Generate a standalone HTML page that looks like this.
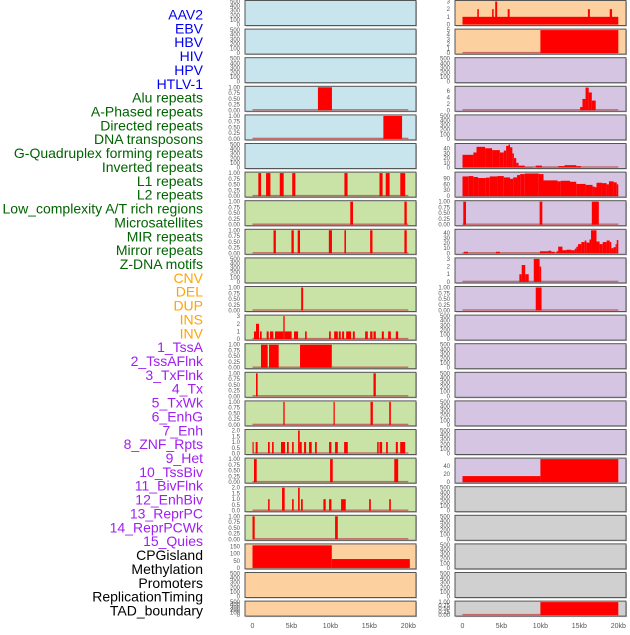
<!DOCTYPE html>
<html><head><meta charset="utf-8"><style>
body{margin:0;background:#fff;width:630px;height:630px;overflow:hidden;font-family:"Liberation Sans",sans-serif}
</style></head><body>
<svg id="c" width="630" height="630" xmlns="http://www.w3.org/2000/svg"></svg>
<script>
const labels=["AAV2","EBV","HBV","HIV","HPV","HTLV-1","Alu repeats","A-Phased repeats","Directed repeats","DNA transposons","G-Quadruplex forming repeats","Inverted repeats","L1 repeats","L2 repeats","Low_complexity A/T rich regions","Microsatellites","MIR repeats","Mirror repeats","Z-DNA motifs","CNV","DEL","DUP","INS","INV","1_TssA","2_TssAFlnk","3_TxFlnk","4_Tx","5_TxWk","6_EnhG","7_Enh","8_ZNF_Rpts","9_Het","10_TssBiv","11_BivFlnk","12_EnhBiv","13_ReprPC","14_ReprPCWk","15_Quies","CPGisland","Methylation","Promoters","ReplicationTiming","TAD_boundary"];
const labelGroups=[6,13,5,15,5];
const groupColors=["#0000ee","#006400","#ffa500","#a020f0","#000000"];
const xTicks=[0,5,10,15,20];
const xTickLabels=["0","5kb","10kb","15kb","20kb"];
const T500=["0","100","200","300","400","500"],V500=[0,100,200,300,400,500];
const T1=["0.00","0.25","0.50","0.75","1.00"],V1=[0,0.25,0.5,0.75,1];
const T2=["0.0","0.5","1.0","1.5","2.0"],V2=[0,0.5,1,1.5,2];
// series [startKb,endKb,value]
const L_alu=[[8.4,10.2,1]];
const L_aphased=[[16.8,19.2,1]];
const L_l2=[[0.75,1.1,1],[1.74,2.3,1],[3.5,4.0,1],[5.1,5.5,1],[11.8,12.2,1],[16.3,16.7,1],[17.1,17.6,1],[18.97,19.6,1]];
const L_lowc=[[12.55,12.9,1],[19.5,19.8,1]];
const L_micro=[[2.7,3.0,1],[5.0,5.3,1],[5.8,6.1,1],[9.8,10.2,1],[11.8,12.0,1],[15.1,15.4,1],[19.5,19.8,1]];
const L_cnv=[[6.25,6.5,1]];
const L_ins=[[0.19,0.45,1],[0.45,0.84,2],[0.96,1.18,1],[1.82,2.08,1],[2.25,2.68,1],[2.89,3.96,1],[3.96,4.13,3],[4.13,5.03,1],[5.33,5.85,1],[6.75,6.96,1],[9.83,10.05,1],[10.48,10.95,1],[11.08,11.33,1],[11.5,11.76,1],[12.02,12.66,1],[12.88,13.13,1],[14.46,14.8,1],[15.1,15.4,1],[15.53,15.83,1],[16.6,16.86,1],[17.41,17.76,1],[18.4,18.7,1]];
const L_tssa=[[1.09,1.95,1],[2.12,3.36,1],[6.1,10.18,1]];
const L_tssaf=[[0.45,0.66,1],[15.53,15.83,1]];
const L_txflnk=[[3.96,4.13,1],[10.4,10.56,1],[15.15,15.45,1],[17.55,17.76,1]];
const L_tx=[[0,0.15,1],[0.41,0.66,1],[1.99,2.21,1],[2.51,2.72,1],[3.66,4.18,1],[4.43,4.65,1],[5.08,5.29,1],[5.85,6.06,2],[6.06,6.32,1],[6.62,6.88,1],[7.26,7.6,1],[8.03,8.25,1],[9.83,10.13,1],[10.6,10.95,1],[11.76,12.23,1],[16.0,16.2,1],[16.3,16.64,1],[17.15,17.37,1],[18.4,18.66,1],[18.96,19.6,1]];
const L_txwk=[[0.19,0.54,1],[9.96,10.3,1],[18.2,18.7,1]];
const L_enhg=[[2.0,2.2,1],[3.79,4.13,2],[5.08,5.29,1],[5.85,6.06,2],[6.23,6.45,1],[9.1,9.4,1],[9.83,10.13,1],[11.37,11.97,1],[14.97,15.19,1],[17.55,17.76,1]];
const L_enh=[[0,0.28,1],[10.6,10.95,1]];
const L_cpg=[[0,10.18,158],[10.18,20.2,62]];
const R_aav2=[[0,20,1],[1.9,2.1,2],[3.8,4.0,2],[4.2,4.45,3],[5.8,6.05,2],[16.1,16.35,2],[18.9,19.2,2]];
const R_ebv=[[10,20,5]];
const R_alu=[[15.1,15.4,1],[15.4,15.8,3.5],[15.8,16.2,7],[16.2,16.6,5.5],[16.6,17.1,3]];
const R_gq=[[0,1.4,27],[1.4,1.8,32],[1.8,2.9,44],[2.9,3.8,41],[3.8,4.8,37],[4.8,5.3,32],[5.3,5.6,36],[5.6,5.9,46],[5.9,6.1,49],[6.1,6.4,43],[6.4,6.6,30],[6.6,6.9,20],[6.9,7.2,10],[7.2,8.0,4],[8.0,9.0,1],[9.4,10.2,4],[10.2,12.3,0.5],[12.3,13.1,3],[13.1,14.6,5],[14.6,15.2,3]];
const R_inv=[[0,0.8,100],[0.8,1.4,102],[1.4,2.0,97],[2.0,3.0,92],[3.0,3.5,94],[3.5,4.5,100],[4.5,5.3,102],[5.3,6.1,95],[6.1,6.5,88],[6.5,7.0,95],[7.0,7.4,107],[7.4,8.0,112],[8.0,9.8,115],[9.8,10.4,112],[10.4,12.2,80],[12.2,12.6,75],[12.6,13.8,78],[13.8,14.6,73],[14.6,15.8,62],[15.8,16.7,57],[16.7,17.0,48],[17.0,17.2,45],[17.2,17.9,68],[17.9,18.5,66],[18.5,18.8,60],[18.8,19.4,75],[19.4,19.8,70],[19.8,20.0,60]];
const R_lowc=[[0.1,0.45,1],[9.9,10.25,1],[16.6,17.5,1]];
const R_micro=[[0.2,0.7,3],[4.3,4.8,3],[9.93,11.0,4],[11.0,11.4,5],[11.4,11.85,3],[12.06,12.28,4],[12.28,12.83,13],[12.83,13.34,6],[13.34,13.98,7],[13.98,14.41,6],[14.41,14.62,9],[14.62,14.83,13],[14.83,15.26,18],[15.26,15.69,22],[15.69,15.9,25],[15.9,16.3,21],[16.3,16.5,27],[16.5,17.2,45],[17.2,17.6,23],[17.6,18.0,18],[18.0,18.5,22],[18.5,18.9,25],[18.9,19.1,22],[19.1,19.4,10],[19.4,19.65,12],[19.65,19.8,18],[19.8,20,26]];
const R_mirror=[[7.3,7.6,1],[7.6,8.05,2.2],[8.05,8.5,1],[9.15,9.9,3],[9.9,10.1,2]];
const R_cnv=[[9.4,10.15,1]];
const R_het=[[0,10,15],[10,20,57.5]];
const R_tad=[[10,20,1]];
const BLUE="#c8e4ec",GREEN="#c9e2a6",PEACH="#fdd0a0",PURP="#d5c5e2",GRAY="#d0d0d0";
// rows: [leftBg,leftTicks,leftVals,leftMax,leftData,rightBg,rightTicks,rightVals,rightMax,rightData,name]
const rows=[
[BLUE,T500,V500,500,null,PEACH,["0","1","2","3"],[0,1,2,3],3,R_aav2,"viral-aav2-ebv"],
[BLUE,T500,V500,500,null,PEACH,["0","1","2","3","4","5"],[0,1,2,3,4,5],5,R_ebv,"viral-hbv"],
[BLUE,T500,V500,500,null,PURP,T500,V500,500,null,"viral-hiv-hpv"],
[BLUE,T1,V1,1,L_alu,PURP,["0","2","4","6"],[0,2,4,6],7.1,R_alu,"alu-repeats"],
[BLUE,T1,V1,1,L_aphased,PURP,T500,V500,500,null,"aphased-repeats"],
[BLUE,T500,V500,500,null,PURP,["0","10","20","30","40"],[0,10,20,30,40],49,R_gq,"g-quadruplex"],
[GREEN,T1,V1,1,L_l2,PURP,["0","30","60","90"],[0,30,60,90],117,R_inv,"inverted-l1"],
[GREEN,T1,V1,1,L_lowc,PURP,T1,V1,1,R_lowc,"low-complexity"],
[GREEN,T1,V1,1,L_micro,PURP,["0","10","20","30","40"],[0,10,20,30,40],45,R_micro,"microsatellites-mir"],
[GREEN,T500,V500,500,null,PURP,["0","1","2","3"],[0,1,2,3],3,R_mirror,"mirror-zdna"],
[GREEN,T1,V1,1,L_cnv,PURP,T1,V1,1,R_cnv,"cnv-del"],
[GREEN,["0","1","2","3"],[0,1,2,3],3,L_ins,PURP,T500,V500,500,null,"dup-ins"],
[GREEN,T1,V1,1,L_tssa,PURP,T500,V500,500,null,"inv-tssa"],
[GREEN,T1,V1,1,L_tssaf,PURP,T500,V500,500,null,"tssaflnk"],
[GREEN,T1,V1,1,L_txflnk,PURP,T500,V500,500,null,"txflnk-tx"],
[GREEN,T2,V2,2,L_tx,PURP,T500,V500,500,null,"txwk"],
[GREEN,T1,V1,1,L_txwk,PURP,["0","20","40"],[0,20,40],57.5,R_het,"enhg-enh"],
[GREEN,T2,V2,2,L_enhg,GRAY,T500,V500,500,null,"znf-het"],
[GREEN,T1,V1,1,L_enh,GRAY,T500,V500,500,null,"tssbiv-bivflnk"],
[PEACH,["0","50","100","150"],[0,50,100,150],161,L_cpg,GRAY,T500,V500,500,null,"cpgisland"],
[PEACH,T500,V500,500,null,GRAY,T500,V500,500,null,"methylation-promoters"],
[PEACH,T500,V500,500,null,GRAY,T1,V1,1,R_tad,"tad-boundary"]];
const NS="http://www.w3.org/2000/svg",svg=document.getElementById("c");
function mk(t,a,p){const e=document.createElementNS(NS,t);for(const k in a)e.setAttribute(k,a[k]);(p||svg).appendChild(e);return e;}
const cols=[{x:245,w:171,x0:252.5},{x:455,w:171,x0:462.5}];
const pxPerKb=155.8/20;
function xs(c,kb){return cols[c].x0+kb*pxPerKb;}
// labels
let li=0;
labelGroups.forEach((n,g)=>{for(let i=0;i<n;i++,li++){const t=mk("text",{x:203,y:19.5+li*13.86,"text-anchor":"end","font-size":"14",fill:groupColors[g]});t.textContent=labels[li];

}});
rows.forEach((r,i)=>{
 const top=0.5+i*28.6,h=(i==21?15:25);
 for(let c=0;c<2;c++){
  const bg=r[c*5],tl=r[c*5+1],tv=r[c*5+2],mx=r[c*5+3],data=r[c*5+4];
  const g=mk("g",{});
  
  
  const x=cols[c].x;
  mk("rect",{x:x+1,y:top+1,width:cols[c].w,height:h,fill:"#bbb"},g);
  mk("rect",{x:x,y:top,width:cols[c].w,height:h,fill:bg,stroke:"#555","stroke-width":1},g);
  const ys=v=>top+h-1-v/mx*(h-2);
  tl.forEach((s,k)=>{const t=mk("text",{x:x-5,y:ys(tv[k])+2,"text-anchor":"end","font-size":"6",fill:"#555"},g);t.textContent=s;
   
   });
  if(data){
   mk("rect",{x:xs(c,0),y:top+h-2.2,width:20*pxPerKb,height:1.4,fill:"#c05050",opacity:0.8},g);
   data.forEach(d=>{const b=mk("rect",{x:xs(c,d[0]),y:ys(d[2]),width:Math.max(0.8,(d[1]-d[0])*pxPerKb),height:top+h-1-ys(d[2]),fill:"#ff0000"},g);
    
    });
  }
 }
});
for(let c=0;c<2;c++)xTicks.forEach((k,i)=>{const t=mk("text",{x:xs(c,k),y:628,"text-anchor":"middle","font-size":"7",fill:"#555"});t.textContent=xTickLabels[i];
 
 });
</script>
</body></html>
